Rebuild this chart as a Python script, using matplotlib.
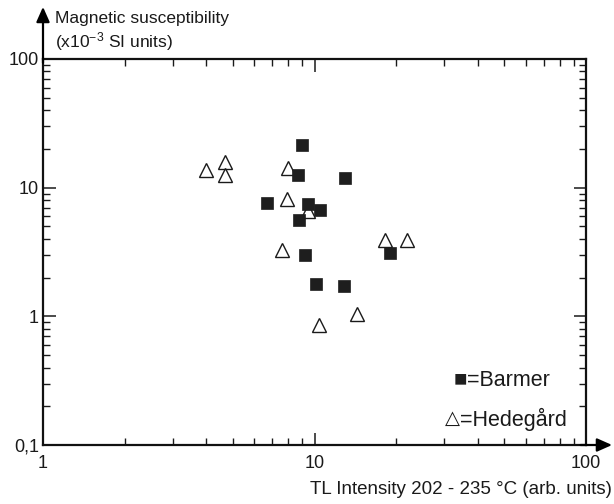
import matplotlib
matplotlib.use("Agg")
import matplotlib.pyplot as plt
from matplotlib.ticker import LogLocator, FixedLocator, FixedFormatter, NullFormatter

plt.rcParams['font.family'] = ['Liberation Sans', 'DejaVu Sans']
plt.rcParams['mathtext.fontset'] = 'custom'
plt.rcParams['mathtext.rm'] = 'Liberation Sans'
plt.rcParams['mathtext.it'] = 'Liberation Sans'
plt.rcParams['mathtext.default'] = 'regular'

# Barmer samples (filled squares)
barmer_x = [9.0, 8.7, 12.9, 6.7, 9.5, 10.5, 8.8, 9.2, 19.0, 10.1, 12.8]
barmer_y = [21.3, 12.6, 11.8, 7.6, 7.4, 6.7, 5.6, 3.0, 3.1, 1.78, 1.71]

# Hedegard samples (open triangles)
hedegard_x = [4.0, 4.7, 4.7, 8.0, 7.9, 9.5, 7.6, 18.2, 21.9, 10.4, 14.4]
hedegard_y = [13.6, 15.7, 12.6, 14.1, 8.2, 6.6, 3.3, 3.9, 3.9, 0.85, 1.05]

x_ticks = [1, 10, 100]
x_labels = ["1", "10", "100"]
y_ticks = [0.1, 1, 10, 100]
y_labels = ["0,1", "1", "10", "100"]

fig = plt.figure(figsize=(6.14, 5.04), dpi=100)
ax = fig.add_axes([43 / 614, 59 / 504, 543 / 614, 386 / 504])

ax.plot(hedegard_x, hedegard_y, linestyle='none', marker='^', ms=10.5,
        mfc='white', mec='#1a1a1a', mew=1.0, zorder=3)
ax.plot(barmer_x, barmer_y, linestyle='none', marker='s', ms=8.5,
        mfc='#1e1e1e', mec='#1e1e1e', mew=0.5, zorder=4)

ax.set_xscale('log')
ax.set_yscale('log')
ax.set_xlim(1, 100)
ax.set_ylim(0.1, 100)

ax.xaxis.set_major_locator(FixedLocator(x_ticks))
ax.xaxis.set_major_formatter(FixedFormatter(x_labels))
ax.yaxis.set_major_locator(FixedLocator(y_ticks))
ax.yaxis.set_major_formatter(FixedFormatter(y_labels))
ax.xaxis.set_minor_locator(LogLocator(base=10, subs=range(2, 10)))
ax.yaxis.set_minor_locator(LogLocator(base=10, subs=range(2, 10)))
ax.xaxis.set_minor_formatter(NullFormatter())
ax.yaxis.set_minor_formatter(NullFormatter())

ax.tick_params(which='both', direction='in', top=True, right=True,
               color='#1a1a1a', labelsize=13, labelcolor='#1a1a1a')
ax.tick_params(which='major', length=9, width=1.1)
ax.tick_params(axis='x', which='major', pad=7)
ax.tick_params(axis='y', which='major', pad=3)
ax.tick_params(which='minor', length=5, width=1.0)

for sp in ax.spines.values():
    sp.set_linewidth(1.6)
    sp.set_color('#111111')

# axis arrows
ax.annotate('', xy=(1.048, 0), xytext=(0.99, 0), xycoords='axes fraction',
            arrowprops=dict(arrowstyle='-|>,head_length=0.9,head_width=0.4',
                            color='black', lw=1.6, shrinkA=0, shrinkB=0))
ax.annotate('', xy=(0, 1.135), xytext=(0, 0.99), xycoords='axes fraction',
            arrowprops=dict(arrowstyle='-|>,head_length=0.9,head_width=0.4',
                            color='black', lw=1.6, shrinkA=0, shrinkB=0))

fig.text(55 / 614, 1 - 18 / 504, "Magnetic susceptibility", fontsize=12.5,
         va='center', ha='left', color='#1a1a1a')
fig.text(55 / 614, 1 - 42 / 504, "(x10$^{-3}$ SI units)", fontsize=12.5,
         va='center', ha='left', color='#1a1a1a')
fig.text(612 / 614, 1 - 490 / 504, "TL Intensity 202 - 235 °C (arb. units)",
         fontsize=13.5, va='center', ha='right', color='#1a1a1a')

# legend written as symbol + text, as in the original figure
ax.text(0.781, 0.168, "■", transform=ax.transAxes, fontsize=16,
        ha='right', va='center', color='#1e1e1e')
ax.text(0.781, 0.168, "=Barmer", transform=ax.transAxes, fontsize=15.5,
        ha='left', va='center', color='#1a1a1a')
ax.text(0.768, 0.065, "△", transform=ax.transAxes, fontsize=14,
        ha='right', va='center', color='#1a1a1a')
ax.text(0.768, 0.065, "=Hedegård", transform=ax.transAxes, fontsize=15.5,
        ha='left', va='center', color='#1a1a1a')

fig.savefig("out.png", dpi=100)
